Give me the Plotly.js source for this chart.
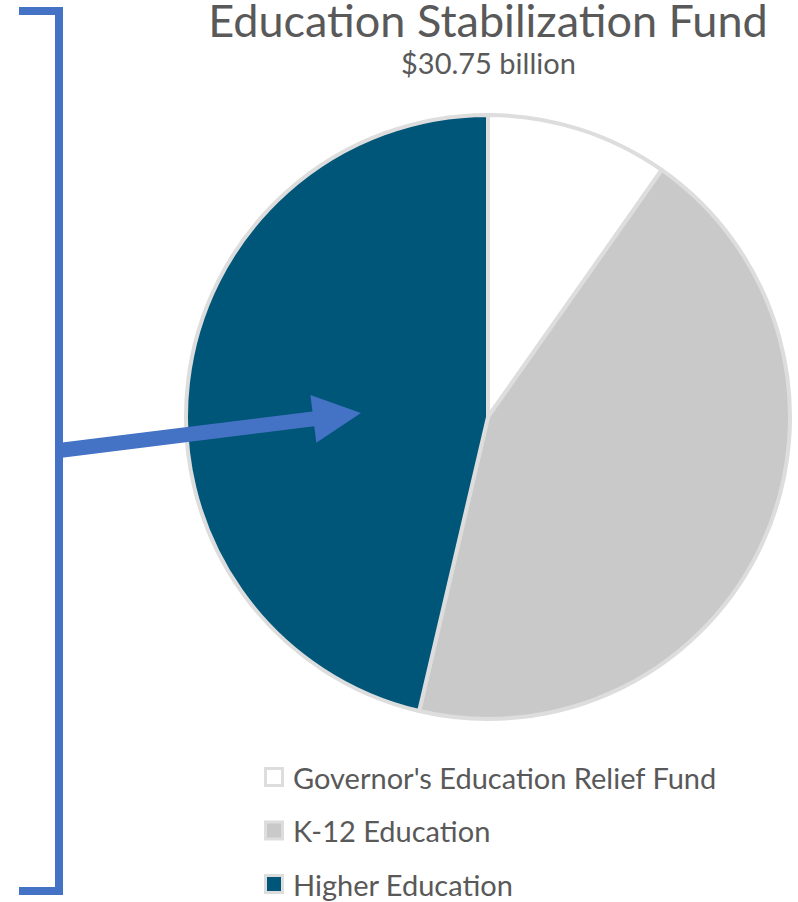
<!DOCTYPE html>
<html>
<head>
<meta charset="utf-8">
<script src="https://cdn.plot.ly/plotly-3.0.1.min.js"></script>
<style>html,body{margin:0;padding:0;background:#fff;}#chart{width:798px;height:902px;}</style>
</head>
<body>
<div id="chart"></div>
<script>
// ---- data ----
const labels = ["Governor's Education Relief Fund", "K-12 Education", "Higher Education"];
const values = [3.0, 13.5, 14.25];          // $ billions
const colors = ["#FFFFFF", "#C9C9C9", "#005678"];
const titleText = "Education Stabilization Fund";
const subtitleText = "$30.75 billion";

// ---- layout helpers ----
const W = 798, H = 902;
const FONT = "Lato, 'Open Sans', sans-serif";
const TXT = "#595959";
const px = x => x / W;
const py = y => 1 - y / H;
const P = (x, y) => px(x).toFixed(5) + "," + py(y).toFixed(5);

// pie geometry (pixels)
const cx = 488, cy = 417, r = 302;

const shapes = [];
const annotations = [];

// bracket
shapes.push({
  type: "path", xref: "paper", yref: "paper",
  path: "M" + P(19, 11) + " L" + P(59, 11) + " L" + P(59, 891) + " L" + P(19, 891),
  line: {color: "#4472C4", width: 8}
});

// arrow
(function () {
  const sx = 59, sy = 450.5, tx = 361, ty = 413;
  const half = 7.5, headLen = 48, headHalf = 24;
  const dx = tx - sx, dy = ty - sy, L = Math.hypot(dx, dy);
  const ux = dx / L, uy = dy / L, nx = -uy, ny = ux;
  const bx = tx - headLen * ux, by = ty - headLen * uy;
  const pts = [
    [sx - half * nx, sy - half * ny],
    [bx - half * nx, by - half * ny],
    [bx - headHalf * nx, by - headHalf * ny],
    [tx, ty],
    [bx + headHalf * nx, by + headHalf * ny],
    [bx + half * nx, by + half * ny],
    [sx + half * nx, sy + half * ny]
  ];
  shapes.push({
    type: "path", xref: "paper", yref: "paper",
    path: "M" + pts.map(p => P(p[0], p[1])).join(" L") + " Z",
    fillcolor: "#4472C4", line: {width: 0}
  });
})();

// custom legend
const legX = 274, legY0 = 777, legStep = 53.5, box = 17;
labels.forEach((lab, i) => {
  const yc = legY0 + i * legStep;
  shapes.push({
    type: "rect", xref: "paper", yref: "paper",
    x0: px(legX - box / 2), x1: px(legX + box / 2),
    y0: py(yc + box / 2), y1: py(yc - box / 2),
    fillcolor: colors[i], line: {color: "#DDDDDD", width: 3}
  });
  annotations.push({
    xref: "paper", yref: "paper", x: px(291), y: py(yc),
    xanchor: "left", yanchor: "middle", showarrow: false,
    text: lab, font: {family: FONT, size: 29, color: TXT}
  });
});

// subtitle
annotations.push({
  xref: "paper", yref: "paper", x: px(488), y: py(63),
  xanchor: "center", yanchor: "middle", showarrow: false,
  text: subtitleText, font: {family: FONT, size: 29, color: TXT}
});

const data = [{
  type: "pie",
  labels: labels,
  values: values,
  sort: false,
  direction: "clockwise",
  rotation: 0,
  textinfo: "none",
  hoverinfo: "label+value+percent",
  showlegend: false,
  marker: {colors: colors, line: {color: "#DDDDDD", width: 4}},
  domain: {x: [px(cx - r), px(cx + r)], y: [py(cy + r), py(cy - r)]}
}];

const layout = {
  width: W, height: H,
  margin: {l: 0, r: 0, t: 0, b: 0},
  paper_bgcolor: "#FFFFFF",
  showlegend: false,
  title: {
    text: titleText,
    font: {family: FONT, size: 45, color: TXT},
    x: px(488), xref: "paper", xanchor: "center",
    y: 1 - 21 / H, yref: "container", yanchor: "middle",
    automargin: false
  },
  shapes: shapes,
  annotations: annotations
};

Plotly.newPlot("chart", data, layout, {displayModeBar: false, staticPlot: true});
</script>
</body>
</html>
